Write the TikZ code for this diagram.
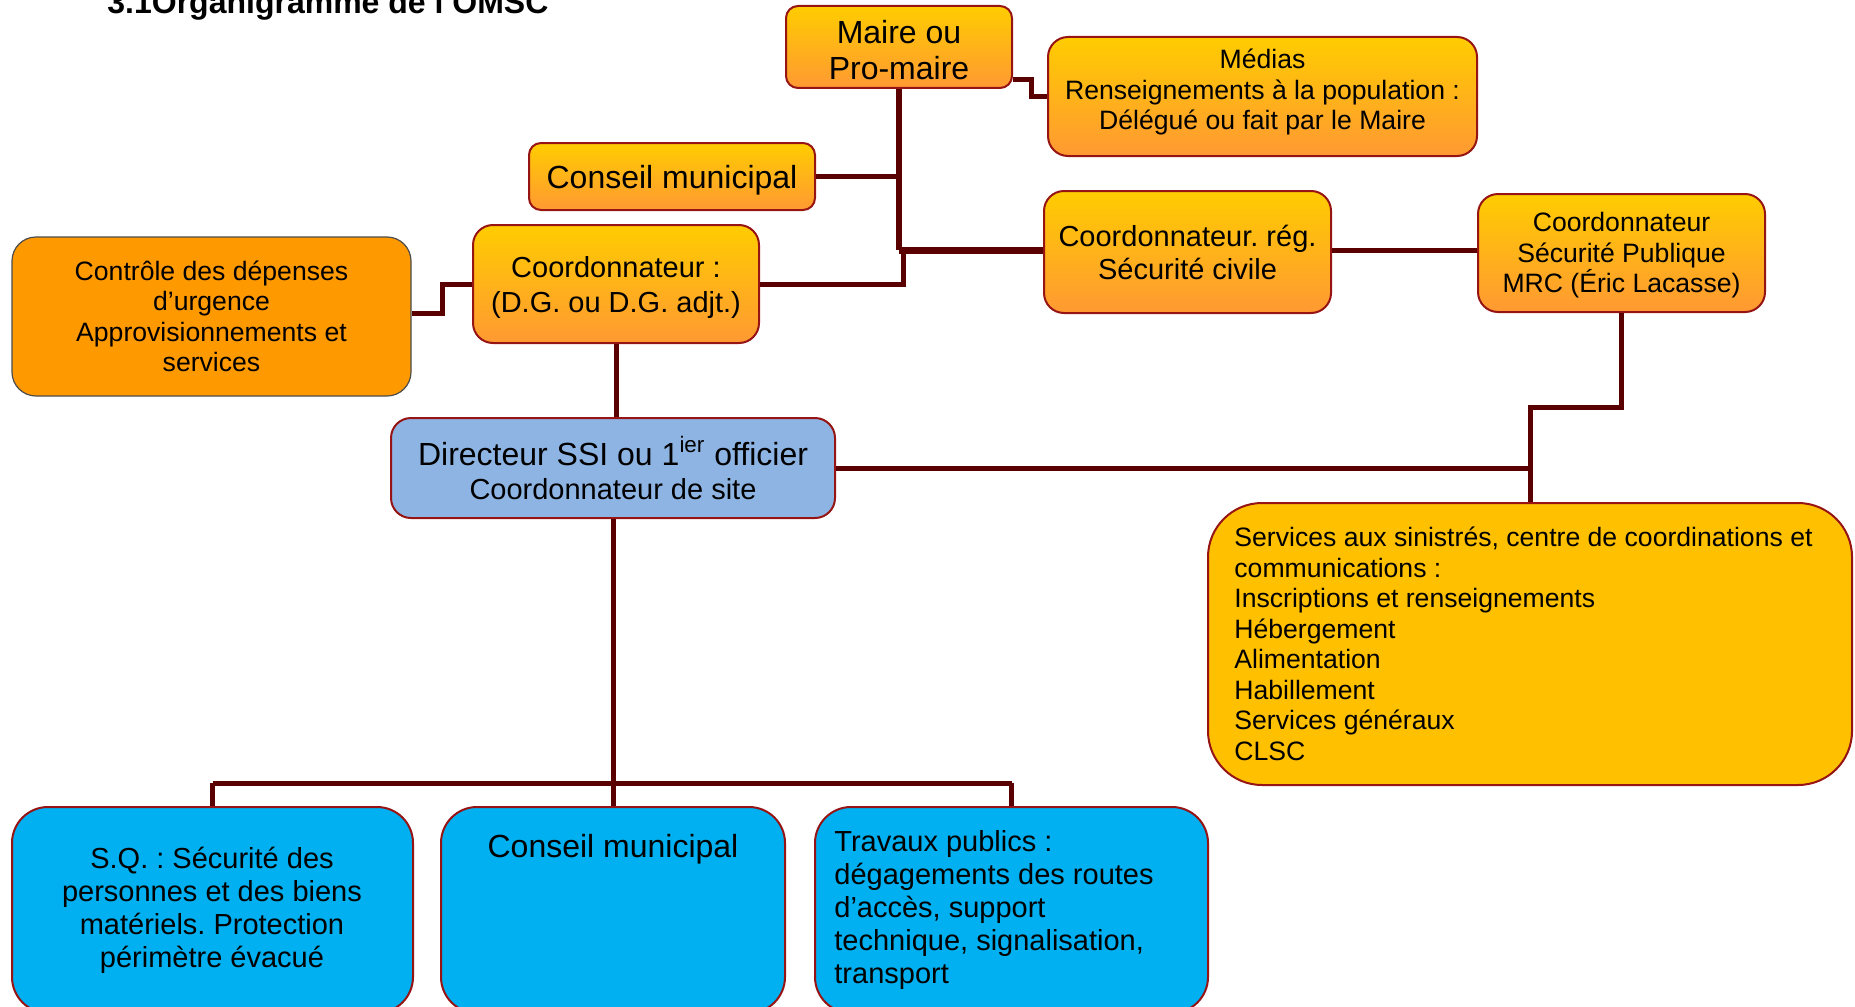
\documentclass[tikz,border=0pt]{standalone}
\usepackage{fontspec}
\setmainfont{Liberation Sans}
\frenchspacing
\definecolor{lc}{RGB}{90,0,0}
\definecolor{bc}{RGB}{150,20,20}
\definecolor{otop}{RGB}{255,204,0}
\definecolor{obot}{RGB}{255,153,51}
\definecolor{ctrl}{RGB}{255,153,0}
\definecolor{blu}{RGB}{142,180,227}
\definecolor{cyanb}{RGB}{0,176,240}
\definecolor{svc}{RGB}{255,192,0}
\newcommand\fszL{\fontsize{16}{18}\selectfont}
\newcommand\fszM{\fontsize{14.5}{16.5}\selectfont}
\newcommand\fszC{\fontsize{14.5}{17.5}\selectfont}
\newcommand\fszS{\fontsize{13.3}{15.25}\selectfont}
\begin{document}
\begin{tikzpicture}[x=0.5pt,y=-0.5pt,
  conn/.style={draw=lc, line width=2.5pt},
  obox/.style={draw=bc, line width=1pt, rounded corners=#1, top color=otop, bottom color=obot, inner sep=0pt, align=center},
  obox/.default=10pt,
  fbox/.style={draw=bc, line width=1pt, rounded corners=#1, inner sep=0pt, align=center},
  txt/.style={inner sep=0pt, align=center}]
\useasboundingbox (0,0) rectangle (1855,1006);
\clip (0,0) rectangle (1855,1006);

% title
\node[anchor=base west, inner sep=0pt, font=\bfseries\fszL] (title) at (107,14) {3.1Organigramme de l’OMSC};

% boxes
\node[obox=6pt, minimum width=113pt, minimum height=41pt] (maire) at (899,47) {};
\node[txt, font=\fszL] (maireT) at (899,50) {Maire ou\\Pro-maire};
\node[obox=10pt, minimum width=214.5pt, minimum height=59.5pt] (medias) at (1262.5,96.5) {};
\node[txt, font=\fszS] (mediasT) at (1262.5,92) {Médias\\Renseignements à la population :\\Délégué ou fait par le Maire};
\node[obox=6pt, minimum width=143pt, minimum height=33.5pt] (conseilA) at (672,176.5) {};
\node[txt, font=\fszL] (conseilAT) at (672,180) {Conseil municipal};
\node[obox=10pt, minimum width=143pt, minimum height=59pt] (coord) at (616,284) {};
\node[txt, font=\fszC] (coordT) at (616,287) {Coordonnateur :\\(D.G. ou D.G. adjt.)};
\node[draw=black!70, line width=0.6pt, fill=ctrl, rounded corners=12pt, inner sep=0pt, align=center, minimum width=199.5pt, minimum height=79.5pt, font=\fszS] (controle) at (211.5,316.5) {Contrôle des dépenses\\d’urgence\\Approvisionnements et\\services};
\node[obox=10pt, minimum width=143.5pt, minimum height=61pt, font=\fszM] (coordreg) at (1187.5,252) {Coordonnateur. rég.\\Sécurité civile};
\node[obox=10pt, minimum width=143.5pt, minimum height=59pt] (coordsp) at (1621.5,253) {};
\node[txt, font=\fszS] (coordspT) at (1621.5,255.5) {Coordonnateur\\Sécurité Publique\\MRC (Éric Lacasse)};
\node[fbox=10pt, fill=blu, minimum width=222pt, minimum height=50pt, font=\fszL] (dir) at (613,468) {Directeur SSI ou 1\textsuperscript{ier} officier\\[-1pt]{\fszM Coordonnateur de site}};
\node[fbox=27pt, fill=svc, minimum width=322pt, minimum height=141pt] (services) at (1530,644) {};
\node[inner sep=0pt, anchor=west, align=left, font=\fszS] (servicesT) at (1234,644) {Services aux sinistrés, centre de coordinations et\\communications :\\Inscriptions et renseignements\\Hébergement\\Alimentation\\Habillement\\Services généraux\\CLSC};
\node[fbox=18pt, fill=cyanb, minimum width=200.5pt, minimum height=103pt] (sq) at (212.5,910) {};
\node[txt, font=\fszM] (sqT) at (212,910) {S.Q. : Sécurité des\\personnes et des biens\\matériels. Protection\\périmètre évacué};
\node[fbox=18pt, fill=cyanb, minimum width=172pt, minimum height=103pt] (conseilB) at (613,910) {};
\node[inner sep=0pt, anchor=base, font=\fszL] (conseilBT) at (613,857) {Conseil municipal};
\node[fbox=18pt, fill=cyanb, minimum width=196.5pt, minimum height=103pt] (travaux) at (1011.5,910) {};
\node[inner sep=0pt, anchor=west, align=left, font=\fszM] (travauxT) at (834,910) {Travaux publics :\\dégagements des routes\\d’accès, support\\technique, signalisation,\\transport};

% connectors
\coordinate (j1) at (899,250);
\coordinate (j2) at (903,284);
\draw[conn, line width=3pt] (maire.south) -- (j1);
\draw[conn, line width=3.5pt] (j1) -- (coordreg.west |- j1);
\draw[conn] (conseilA.east) -- (conseilA.east -| j1);
\draw[conn] (coord.east) -- (j2) -- (j2 |- j1);
\coordinate (mm1) at (1031,80);
\coordinate (mm2) at (1031,97);
\draw[conn] (maire.east |- mm1) -- (mm1) -- (mm2) -- (medias.west |- mm2);
\coordinate (c1) at (442,313);
\draw[conn] (controle.east |- c1) -- (c1) -- (c1 |- coord.west) -- (coord.west);
\draw[conn] (coordreg.east |- j1) -- (coordsp.west |- j1);
\coordinate (s1) at (1621.5,407);
\coordinate (s2) at (1530,407);
\draw[conn] (coordsp.south) -- (s1) -- (s2) -- (services.north);
\draw[conn] (dir.east) -- (dir.east -| services.north);
\draw[conn] (coord.south) -- (coord.south |- dir.north);
\coordinate (bus) at (613,783);
\draw[conn] (dir.south) -- (bus);
\draw[conn] (sq.north |- bus) -- (travaux.north |- bus);
\draw[conn] (sq.north |- bus) -- (sq.north);
\draw[conn] (bus) -- (conseilB.north);
\draw[conn] (travaux.north |- bus) -- (travaux.north);
\end{tikzpicture}
\end{document}
